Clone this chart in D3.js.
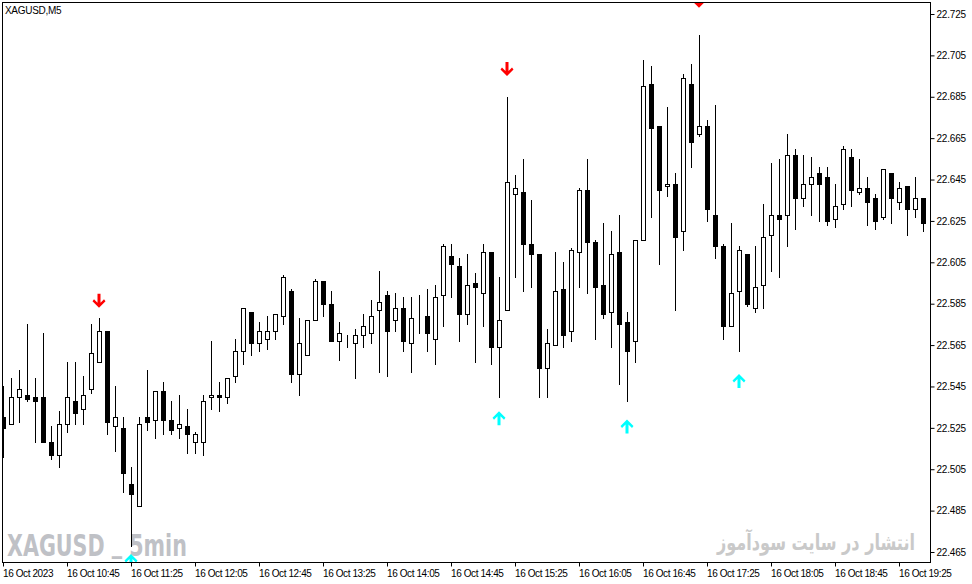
<!DOCTYPE html>
<html><head><meta charset="utf-8">
<script src="https://cdn.jsdelivr.net/npm/d3@7"></script>
<style>
body{margin:0;background:#fff}
svg{display:block}
</style>
</head><body>
<script>
// ---- data (XAGUSD M5, 16 Oct 2023, one entry per 5-minute bar) ----
const opens = [22.530,22.527,22.540,22.541,22.540,22.540,22.518,22.512,22.527,22.538,
22.534,22.544,22.557,22.572,22.526,22.525,22.498,22.487,22.530,22.529,
22.543,22.529,22.525,22.526,22.518,22.518,22.540,22.541,22.540,22.550,
22.562,22.581,22.566,22.568,22.572,22.579,22.591,22.551,22.560,22.577,
22.596,22.585,22.567,22.568,22.566,22.570,22.571,22.582,22.589,22.577,
22.583,22.566,22.578,22.579,22.568,22.589,22.608,22.603,22.580,22.595,
22.590,22.610,22.564,22.582,22.638,22.639,22.614,22.609,22.554,22.565,
22.592,22.572,22.610,22.640,22.615,22.594,22.581,22.610,22.576,22.567,
22.616,22.691,22.671,22.642,22.643,22.620,22.691,22.667,22.671,22.628,
22.613,22.574,22.591,22.609,22.583,22.594,22.618,22.628,22.628,22.657,
22.636,22.643,22.648,22.646,22.626,22.633,22.656,22.639,22.641,22.636,
22.627,22.648,22.634,22.642,22.631,22.636];
const highs = [22.545,22.549,22.553,22.575,22.549,22.571,22.526,22.533,22.557,22.557,
22.550,22.575,22.578,22.572,22.545,22.530,22.506,22.530,22.553,22.543,
22.547,22.538,22.541,22.534,22.523,22.541,22.567,22.547,22.549,22.568,
22.583,22.581,22.576,22.579,22.580,22.599,22.592,22.578,22.577,22.597,
22.596,22.591,22.576,22.570,22.573,22.580,22.587,22.601,22.591,22.590,
22.588,22.588,22.589,22.592,22.594,22.614,22.614,22.607,22.609,22.600,
22.614,22.610,22.598,22.685,22.647,22.655,22.635,22.609,22.573,22.610,
22.605,22.612,22.641,22.655,22.616,22.624,22.620,22.628,22.581,22.616,
22.703,22.700,22.671,22.680,22.648,22.696,22.701,22.715,22.674,22.681,
22.614,22.624,22.613,22.609,22.613,22.633,22.653,22.655,22.667,22.660,
22.657,22.656,22.651,22.651,22.643,22.661,22.660,22.655,22.646,22.638,
22.650,22.648,22.644,22.642,22.646,22.636];
const lows = [22.511,22.527,22.528,22.538,22.518,22.518,22.510,22.506,22.523,22.527,
22.527,22.542,22.557,22.522,22.514,22.494,22.468,22.487,22.524,22.520,
22.522,22.522,22.520,22.513,22.513,22.512,22.534,22.533,22.537,22.547,
22.556,22.560,22.562,22.563,22.568,22.575,22.547,22.541,22.560,22.577,
22.579,22.567,22.558,22.564,22.549,22.564,22.566,22.552,22.550,22.572,
22.562,22.552,22.571,22.562,22.556,22.574,22.588,22.567,22.575,22.557,
22.574,22.556,22.540,22.582,22.598,22.591,22.593,22.540,22.540,22.565,
22.564,22.567,22.593,22.590,22.568,22.578,22.564,22.546,22.538,22.557,
22.616,22.627,22.604,22.637,22.582,22.611,22.651,22.666,22.625,22.607,
22.568,22.574,22.562,22.584,22.581,22.583,22.601,22.598,22.613,22.621,
22.632,22.628,22.625,22.623,22.622,22.631,22.632,22.638,22.623,22.621,
22.626,22.624,22.631,22.618,22.627,22.620];
const closes = [22.525,22.540,22.544,22.539,22.538,22.518,22.512,22.527,22.540,22.532,
22.541,22.561,22.572,22.528,22.530,22.503,22.493,22.527,22.528,22.543,
22.529,22.524,22.527,22.522,22.522,22.538,22.541,22.540,22.549,22.562,
22.583,22.566,22.572,22.572,22.580,22.598,22.551,22.566,22.577,22.596,
22.585,22.567,22.571,22.568,22.570,22.574,22.579,22.586,22.572,22.583,
22.567,22.578,22.578,22.571,22.588,22.613,22.604,22.580,22.594,22.593,
22.610,22.564,22.577,22.644,22.641,22.614,22.609,22.554,22.566,22.591,
22.570,22.611,22.640,22.615,22.593,22.580,22.609,22.575,22.562,22.616,
22.690,22.670,22.640,22.643,22.617,22.694,22.663,22.671,22.631,22.613,
22.574,22.590,22.611,22.585,22.593,22.617,22.628,22.626,22.657,22.636,
22.643,22.646,22.643,22.625,22.632,22.660,22.640,22.641,22.634,22.625,
22.650,22.636,22.641,22.631,22.636,22.624];

const xTickIndex  = [0,8,16,24,32,40,48,56,64,72,80,88,96,104,112];
const xTickLabels = ["16 Oct 2023","16 Oct 10:45","16 Oct 11:25","16 Oct 12:05","16 Oct 12:45",
  "16 Oct 13:25","16 Oct 14:05","16 Oct 14:45","16 Oct 15:25","16 Oct 16:05","16 Oct 16:45",
  "16 Oct 17:25","16 Oct 18:05","16 Oct 18:45","16 Oct 19:25"];
const yTicks = [22.465,22.485,22.505,22.525,22.545,22.565,22.585,22.605,22.625,22.645,22.665,22.685,22.705,22.725];

// arrow signals: bar index and price level of the arrow tip
const sellIdx   = [12, 63, 87];
const sellLevel = [22.583, 22.695, 22.728];
const buyIdx    = [16, 62, 78, 92];
const buyLevel  = [22.464, 22.533, 22.529, 22.551];

const symbolTitle = "XAGUSD,M5";
const watermarkLeftParts = ["XAGUSD ", "_", " 5min"];
const watermarkRight = "انتشار در سایت سودآموز";

// ---- drawing ----
const W = 972, H = 584;
const pLeft = 2.5, pTop = 2.5, pRight = 930.5, pBottom = 562.5;
const FONT = "'Liberation Sans', Arial, sans-serif";

const bars = opens.map((o, i) => ({i, o, h: highs[i], l: lows[i], c: closes[i]}));

const x = d3.scaleLinear().domain([0, bars.length - 1]).range([3.5, 3.5 + 8 * (bars.length - 1)]);
const y = d3.scaleLinear().domain([22.465, 22.725]).range([552, 14]);
const py = v => Math.round(y(v)) + 0.5;

const svg = d3.select("body").append("svg").attr("width", W).attr("height", H);
svg.append("rect").attr("width", W).attr("height", H).attr("fill", "#fff");

svg.append("defs").append("clipPath").attr("id", "plot")
  .append("rect").attr("x", pLeft + 0.5).attr("y", pTop + 0.5)
  .attr("width", pRight - pLeft - 1).attr("height", pBottom - pTop - 1);

// watermarks (condensed by measuring natural width, then scaling horizontally)
const wl = svg.append("text")
  .attr("font-family", "'DejaVu Sans', sans-serif").attr("font-weight", "bold")
  .attr("font-size", 27).attr("fill", "#bfc1c6");
wl.append("tspan").text(watermarkLeftParts[0]);
wl.append("tspan").attr("dy", -4).text(watermarkLeftParts[1]);
wl.append("tspan").attr("dy", 4).text(watermarkLeftParts[2]);
const wlw = wl.node().getComputedTextLength() || 240;
wl.attr("transform", `translate(7,556) scale(${180 / wlw},1.12)`);

const wr = svg.append("text")
  .attr("text-anchor", "middle")
  .attr("font-family", "'DejaVu Sans', sans-serif").attr("font-weight", "bold")
  .attr("font-size", 22).attr("fill", "#c9c9c9")
  .text(watermarkRight);
const wrw = wr.node().getComputedTextLength() || 198;
wr.attr("transform", `translate(816,550) scale(${198 / wrw},1)`);

const plot = svg.append("g").attr("clip-path", "url(#plot)");

// wicks
plot.append("g").selectAll("line").data(bars).join("line")
  .attr("x1", d => x(d.i)).attr("x2", d => x(d.i))
  .attr("y1", d => Math.round(y(d.h))).attr("y2", d => Math.round(y(d.l)) + 1)
  .attr("stroke", "#000").attr("stroke-width", 1);

// bodies
plot.append("g").selectAll("rect").data(bars).join("rect")
  .attr("x", d => x(d.i) - 2)
  .attr("width", 4)
  .attr("y", d => py(Math.max(d.o, d.c)))
  .attr("height", d => Math.max(0, py(Math.min(d.o, d.c)) - py(Math.max(d.o, d.c))))
  .attr("fill", d => d.c >= d.o ? "#fff" : "#000")
  .attr("stroke", "#000").attr("stroke-width", 1);

// arrows
const downArrow = "M-1.5,-14L1.5,-14L1.5,-5L5,-8.5L6.5,-6.5L0,0L-6.5,-6.5L-5,-8.5L-1.5,-5Z";
const upArrow   = "M-1.5,14L1.5,14L1.5,5L5,8.5L6.5,6.5L0,0L-6.5,6.5L-5,8.5L-1.5,5Z";
plot.append("g").selectAll("path").data(sellIdx.map((b, k) => ({b, v: sellLevel[k]}))).join("path")
  .attr("transform", d => `translate(${x(d.b) - 0.5},${y(d.v)})`)
  .attr("d", downArrow).attr("fill", "#ff0000");
plot.append("g").selectAll("path").data(buyIdx.map((b, k) => ({b, v: buyLevel[k]}))).join("path")
  .attr("transform", d => `translate(${x(d.b) - 0.5},${y(d.v)})`)
  .attr("d", upArrow).attr("fill", "#00ffff");

// frame
svg.append("rect").attr("x", pLeft).attr("y", pTop)
  .attr("width", pRight - pLeft).attr("height", pBottom - pTop)
  .attr("fill", "none").attr("stroke", "#000").attr("stroke-width", 1);

// title
svg.append("text").attr("x", 5).attr("y", 14)
  .attr("font-family", FONT).attr("font-size", 10).attr("fill", "#000")
  .attr("letter-spacing", -0.3)
  .text(symbolTitle);

// y axis
const yAxis = d3.axisRight(y).tickValues(yTicks).tickFormat(d3.format(".3f"))
  .tickSize(4).tickPadding(2).offset(0.5);
const gy = svg.append("g").attr("transform", `translate(${pRight},0)`).call(yAxis);
gy.select(".domain").remove();
gy.selectAll("line").attr("stroke", "#000");
gy.selectAll("text").attr("font-family", FONT).attr("font-size", 10)
  .attr("letter-spacing", -0.2).attr("fill", "#000");

// x axis
const xAxis = d3.axisBottom(x).tickValues(xTickIndex)
  .tickFormat((d, k) => xTickLabels[k]).tickSize(4).offset(0);
const gx = svg.append("g").attr("transform", `translate(0,${pBottom})`).call(xAxis);
gx.select(".domain").remove();
gx.selectAll("line").attr("stroke", "#000");
gx.selectAll("text").attr("font-family", FONT).attr("font-size", 10)
  .attr("letter-spacing", -0.4).attr("fill", "#000")
  .attr("text-anchor", "start").attr("x", -0.5).attr("y", 14).attr("dy", 0);
</script>
</body></html>
